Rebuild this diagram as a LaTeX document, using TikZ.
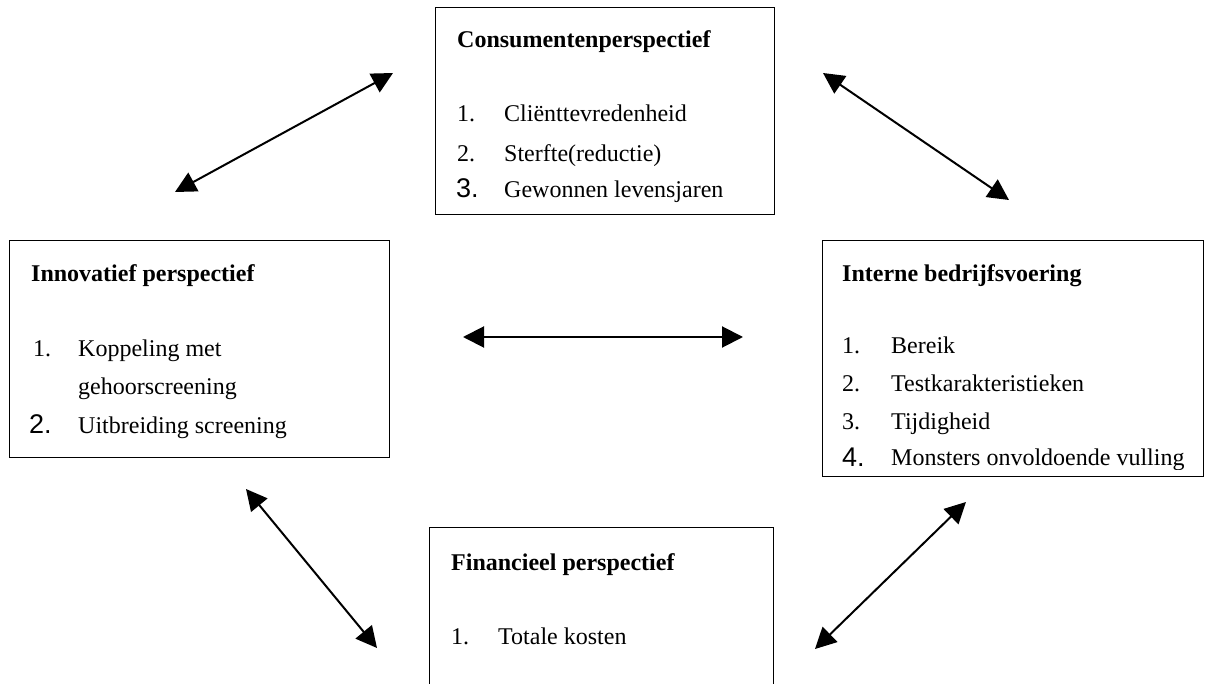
\documentclass[tikz,border=0pt]{standalone}
\usepackage{fontspec}
\setmainfont{Liberation Serif}
\newfontfamily\numfont{Liberation Sans}
\usetikzlibrary{arrows.meta}
\tikzset{
  box/.style={draw=black, line width=1.4pt, inner sep=0pt, anchor=north west},
  txt/.style={anchor=base west, inner sep=0pt, font=\fontsize{24}{28}\selectfont},
  ttl/.style={txt, font=\fontsize{24}{28}\selectfont\bfseries},
  bignum/.style={anchor=base west, inner sep=0pt, font=\numfont\fontsize{27}{30}\selectfont},
  link/.style={line width=2pt, {Triangle[length=21pt,width=21pt]}-{Triangle[length=21pt,width=21pt]}}
}
\begin{document}
\begin{tikzpicture}[x=1pt,y=-1pt]
\useasboundingbox (0,0) rectangle (1205,684);
\clip (0,0) rectangle (1205,684);
\fill[white] (0,0) rectangle (1205,684);
% boxes
\node[box, minimum width=339pt, minimum height=207pt] (cons) at (435,7) {};
\node[box, minimum width=380pt, minimum height=217pt] (inno) at (9,240) {};
\node[box, minimum width=381pt, minimum height=236pt] (intern) at (822,240) {};
\node[box, minimum width=344pt, minimum height=180pt] (fin) at (429,527) {};
% consumentenperspectief
\node[ttl] (t1) at (457,48) {Consumentenperspectief};
\node[txt] (c1n) at (457,122) {1.};
\node[txt] (c1) at (504,122) {Cliënttevredenheid};
\node[txt] (c2n) at (457,162) {2.};
\node[txt] (c2) at (504,162) {Sterfte(reductie)};
\node[bignum] (c3n) at (456,198) {3.};
\node[txt] (c3) at (504,198) {Gewonnen levensjaren};
% innovatief
\node[ttl] (t2) at (31,282) {Innovatief perspectief};
\node[txt] (i1n) at (33,357) {1.};
\node[txt] (i1) at (78,357) {Koppeling met};
\node[txt] (i1b) at (78,395) {gehoorscreening};
\node[bignum] (i2n) at (29,434) {2.};
\node[txt] (i2) at (78,433) {Uitbreiding screening};
% intern
\node[ttl] (t3) at (842,282) {Interne bedrijfsvoering};
\node[txt] (b1n) at (842,354) {1.};
\node[txt] (b1) at (891,354) {Bereik};
\node[txt] (b2n) at (842,392) {2.};
\node[txt] (b2) at (891,392) {Testkarakteristieken};
\node[txt] (b3n) at (842,429) {3.};
\node[txt] (b3) at (891,429) {Tijdigheid};
\node[bignum] (b4n) at (842,466) {4.};
\begin{scope}
\clip (880,440) rectangle (1183,469);
\node[txt] (b4) at (891,465) {Monsters onvoldoende vulling};
\end{scope}
% financieel
\node[ttl] (t4) at (451,570) {Financieel perspectief};
\node[txt] (f1n) at (451,644) {1.};
\node[txt] (f1) at (498,644) {Totale kosten};
% arrow end points
\coordinate (a1) at (175,192); \coordinate (a2) at (393,73);
\coordinate (b1e) at (823,73); \coordinate (b2e) at (1009,200);
\coordinate (h1) at (463,337); \coordinate (h2) at (743,337);
\coordinate (d1) at (246,489); \coordinate (d2) at (377,648);
\coordinate (e1) at (966,502); \coordinate (e2) at (815,649);
\draw[link] (a1) -- (a2);
\draw[link] (b1e) -- (b2e);
\draw[link] (h1) -- (h2);
\draw[link] (d1) -- (d2);
\draw[link] (e1) -- (e2);
\end{tikzpicture}
\end{document}
